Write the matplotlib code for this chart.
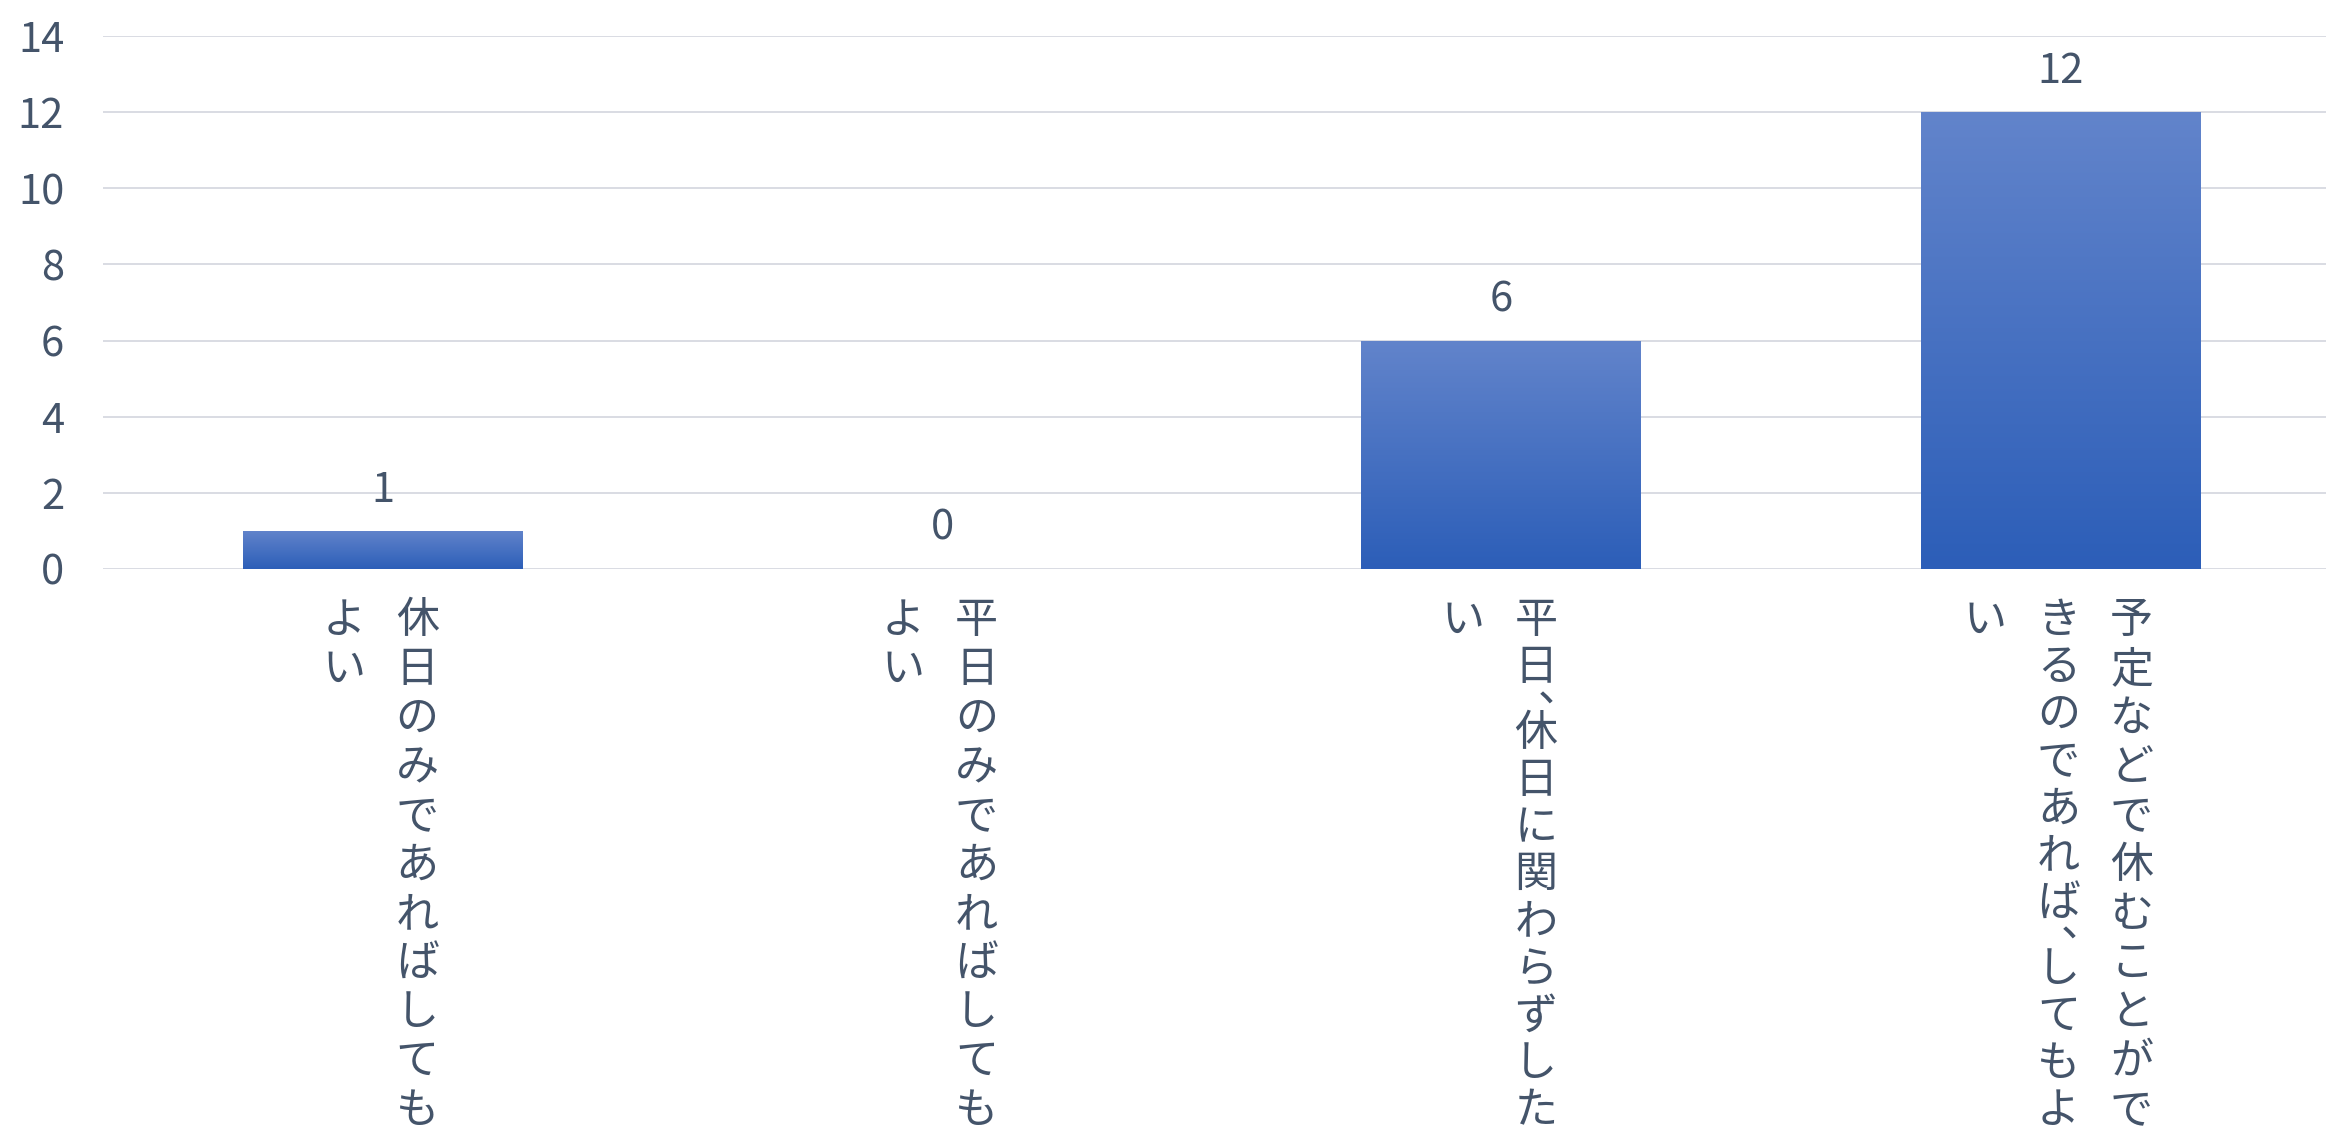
import numpy as np
import matplotlib
matplotlib.use('Agg')
import matplotlib.pyplot as plt
from matplotlib.colors import LinearSegmentedColormap

plt.rcParams['font.family'] = ['Noto Sans CJK JP', 'DejaVu Sans']

labels = [
    '休日のみであればしてもよい',
    '平日のみであればしてもよい',
    '平日、休日に関わらずしたい',
    '予定などで休むことができるのであれば、してもよい',
]
values = [1, 0, 6, 12]
yticks = [0, 2, 4, 6, 8, 10, 12, 14]

text_color = '#44546A'
grid_color = '#D9DCE3'
top_color = '#6284CB'
bottom_color = '#2C5EB8'

COMMA_W = 0.4  # stacked text: the comma takes less room than a full cell


def wrap_vertical(s, cap=11.5):
    cols, cur, used = [], '', 0.0
    for ch in s:
        w = COMMA_W if ch == '、' else 1.0
        if used + w > cap:
            cols.append(cur)
            cur, used = '', 0.0
        cur += ch
        used += w
    if cur:
        cols.append(cur)
    return cols


fig = plt.figure(figsize=(23.26, 11.37), dpi=100)
ax = fig.add_axes([0.0443, 0.4996, 0.9618, 0.4687])

x = np.arange(len(values))
bars = ax.bar(x, values, width=0.5, color='none', edgecolor='none', zorder=2)

cmap = LinearSegmentedColormap.from_list('grad', [bottom_color, top_color])
grad = np.linspace(0, 1, 256).reshape(-1, 1)
for b in bars:
    if b.get_height() <= 0:
        continue
    x0, y0 = b.get_x(), b.get_y()
    im = ax.imshow(grad, cmap=cmap, origin='lower', aspect='auto',
                   extent=[x0, x0 + b.get_width(), y0, y0 + b.get_height()], zorder=2)
    im.set_clip_path(b)

ax.set_xlim(-0.5, 3.5)
ax.set_ylim(0, 14)
ax.set_yticks(yticks)
ax.set_xticks([])
ax.tick_params(axis='y', length=0, pad=28, labelsize=30, labelcolor=text_color)
ax.grid(axis='y', color=grid_color, linewidth=1.4)
ax.set_axisbelow(True)
for s in ax.spines.values():
    s.set_visible(False)

for xi, v in zip(x, values):
    ax.annotate(str(v), xy=(xi, v), xytext=(0, 21), textcoords='offset points',
                ha='center', va='baseline', fontsize=30, color=text_color)

# vertical category labels, columns right to left
col_gap = 73
span = 490  # px between first and last cell centre of a full column
for xi, lab in zip(x, labels):
    cols = wrap_vertical(lab)
    n = len(cols)
    for k, col in enumerate(cols):
        dx = ((n - 1) / 2 - k) * col_gap - 2
        units = sum(COMMA_W if c == '、' else 1.0 for c in col)
        pitch = min(49.0, span / max(units - 1, 1))
        cur = 52
        for ch in col:
            if ch == '、':
                # vertical comma sits at the upper right of its cell
                ax.annotate(ch, xy=(xi, 0), xycoords=('data', 'axes fraction'),
                            xytext=(dx + 2, -(cur - 0.4 * pitch + 5)), textcoords='offset pixels',
                            ha='left', va='baseline', fontsize=31, color=text_color,
                            annotation_clip=False, zorder=5)
                cur += COMMA_W * pitch
            else:
                ax.annotate(ch, xy=(xi, 0), xycoords=('data', 'axes fraction'),
                            xytext=(dx, -cur), textcoords='offset pixels',
                            ha='center', va='center', fontsize=31, color=text_color,
                            annotation_clip=False)
                cur += pitch

fig.savefig('out.png', dpi=100)
